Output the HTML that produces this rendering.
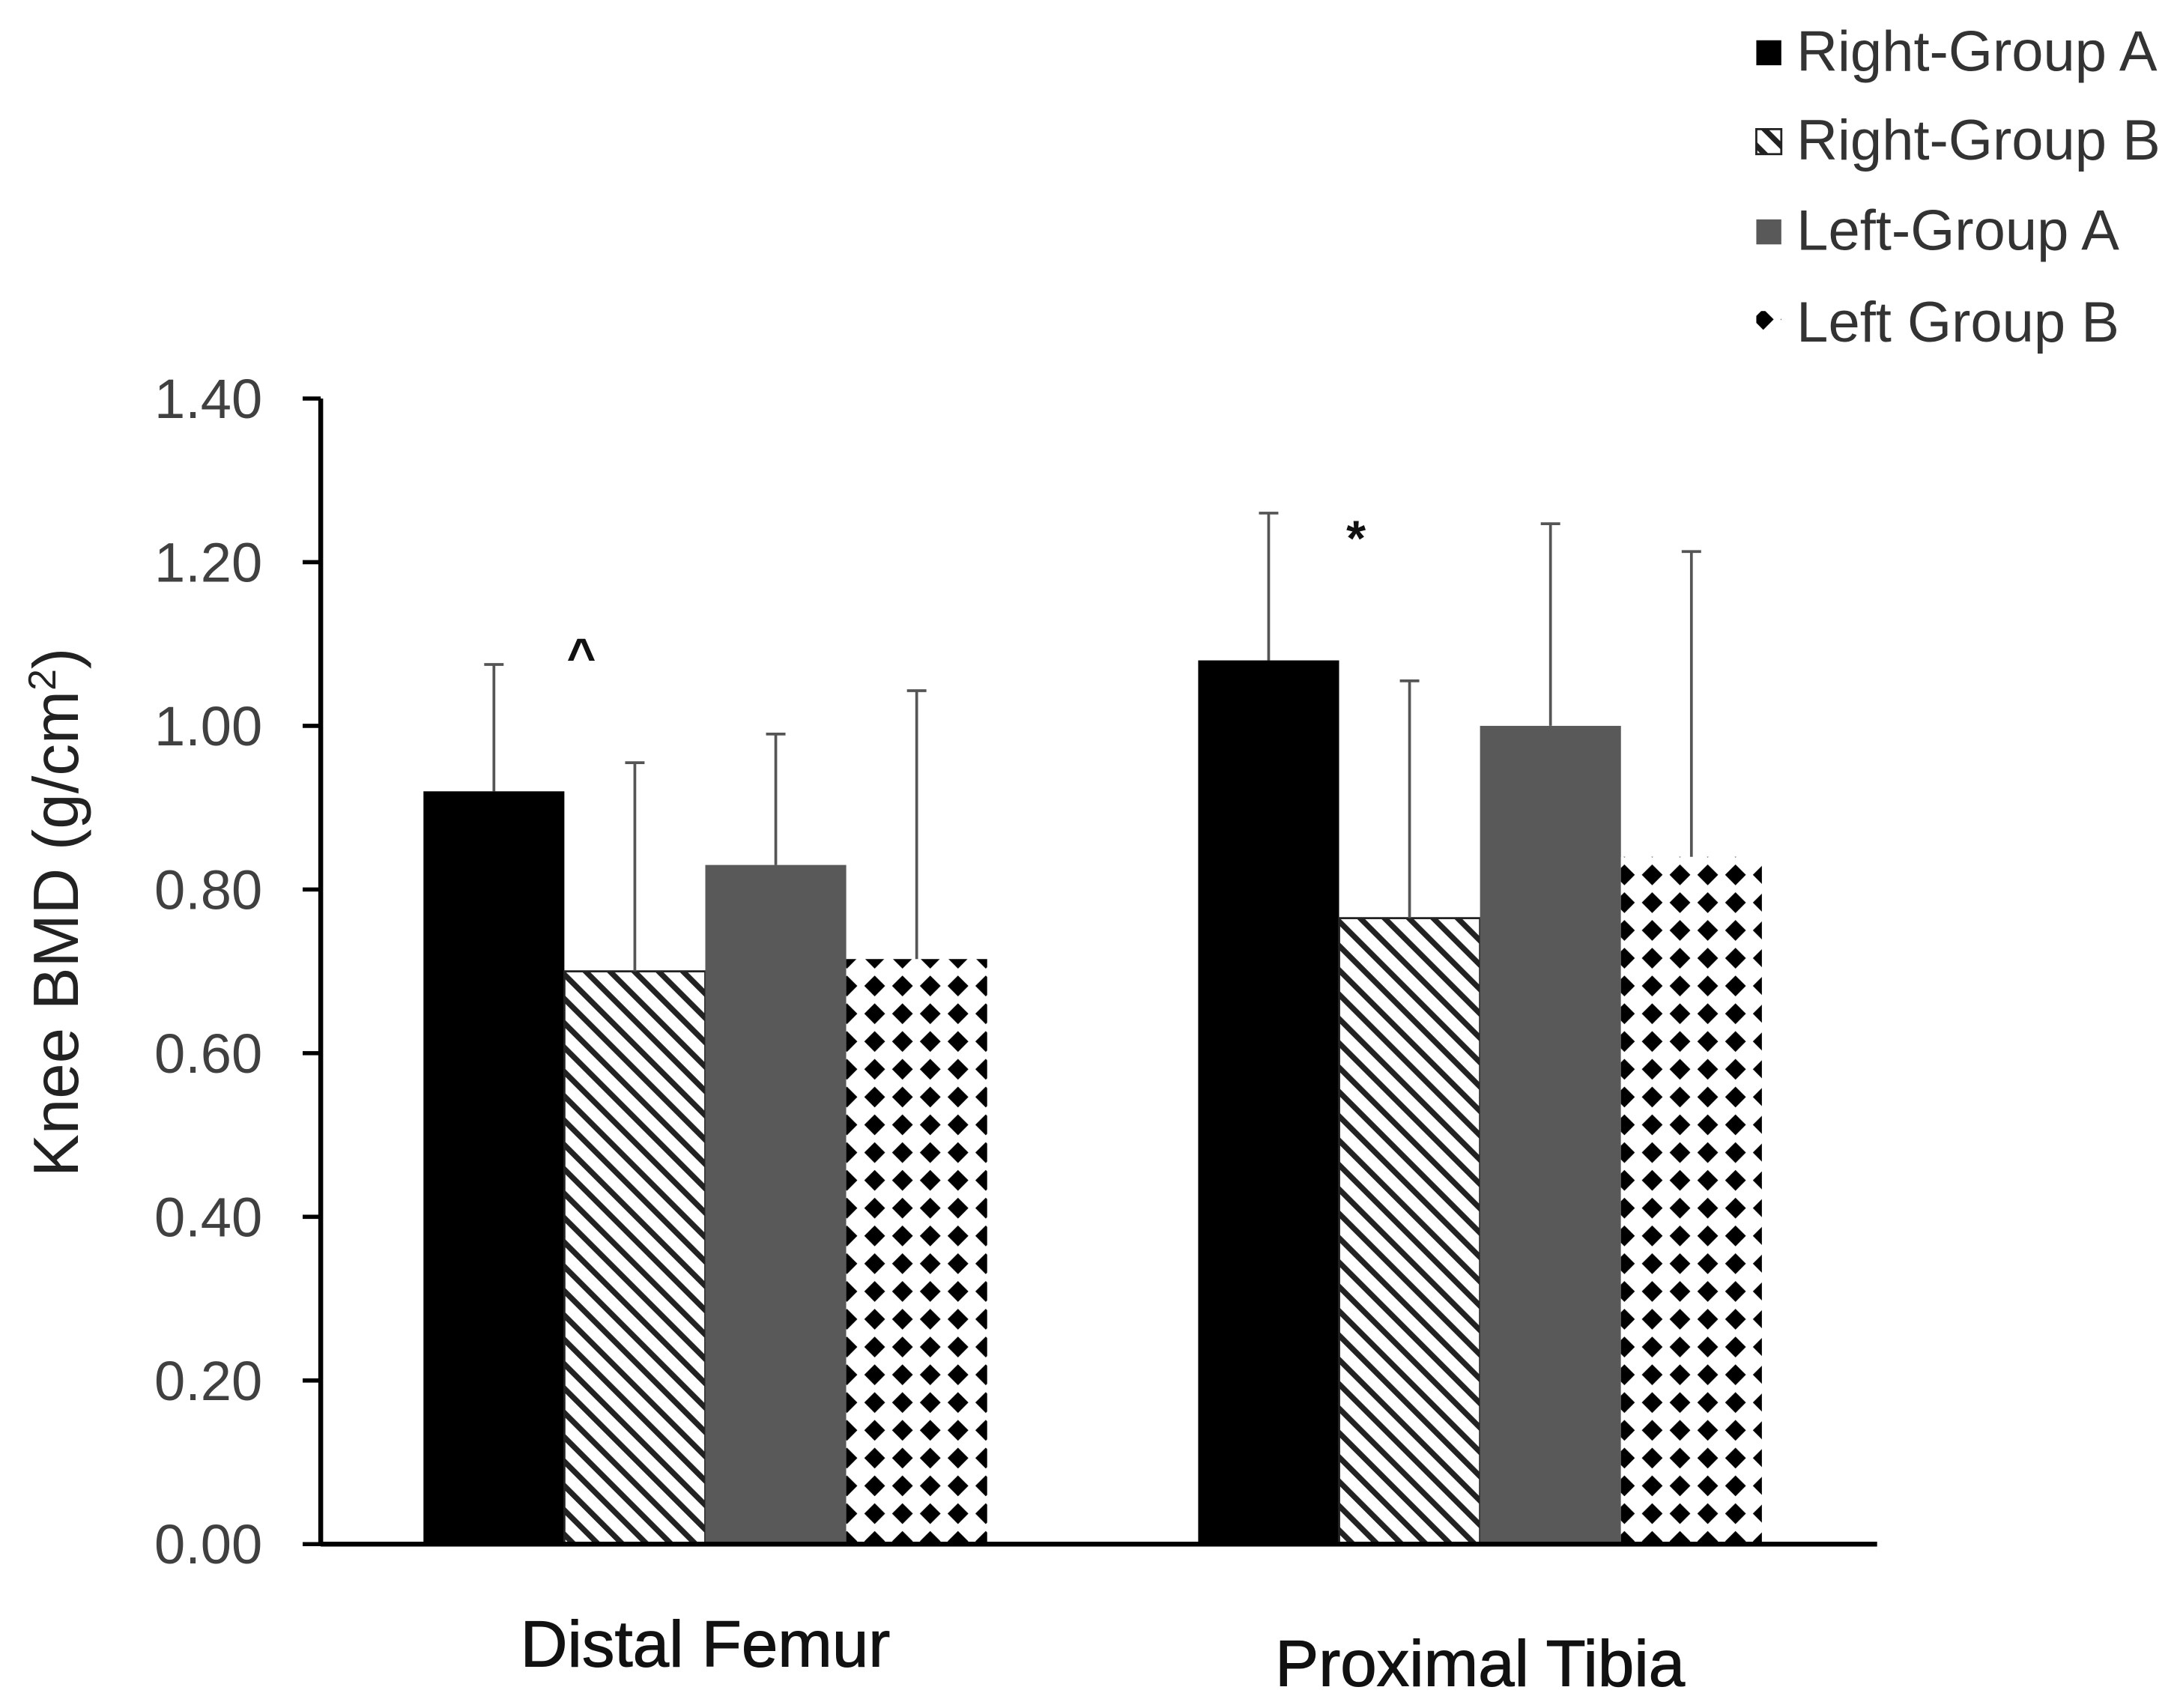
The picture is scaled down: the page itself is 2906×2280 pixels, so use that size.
<!DOCTYPE html>
<html><head><meta charset="utf-8"><style>
html,body{margin:0;padding:0;background:#fff;}
svg{display:block;}
text{font-family:"Liberation Sans",Arial,sans-serif;}
</style></head><body>
<svg id="chart" width="2906" height="2280" viewBox="0 0 1568 1230" preserveAspectRatio="none" xmlns="http://www.w3.org/2000/svg">
<defs>
<pattern id="hatch" patternUnits="userSpaceOnUse" width="12.4" height="12.4" patternTransform="rotate(-45)">
<rect width="12.4" height="12.4" fill="#fff"/>
<rect x="0" y="0" width="4" height="12.4" fill="#222"/>
</pattern>
<pattern id="dots" patternUnits="userSpaceOnUse" width="20" height="20" x="0" y="0">
<rect width="20" height="20" fill="#fff"/>
<polygon points="10,2.5 17.5,10 10,17.5 2.5,10" fill="#000"/>
</pattern>
</defs>
<g id="plot"></g>
</svg>
<script>
const categories = ["Distal Femur", "Proximal Tibia"];
const seriesNames = ["Right-Group A", "Right-Group B", "Left-Group A", "Left Group B"];
const rightA = [0.92, 1.08];
const rightB = [0.70, 0.765];
const leftA = [0.83, 1.00];
const leftB = [0.715, 0.84];
const rightAErr = [1.075, 1.26];
const rightBErr = [0.955, 1.055];
const leftAErr = [0.99, 1.247];
const leftBErr = [1.043, 1.213];
const yTicks = [0, 0.2, 0.4, 0.6, 0.8, 1.0, 1.2, 1.4];
const annotations = ["^", "*"];

const NS = "http://www.w3.org/2000/svg";
const g = document.getElementById("plot");
const X0 = 231, XEND = 1352, Y0 = 1112, YTOP = 287, YMAX = 1.4;
const yScale = v => Y0 - (v / YMAX) * (Y0 - YTOP);
const groupStart = [305, 863];
const barW = 101.5;
const fills = ["#000", "url(#hatch)", "#595959", "url(#dots)"];
const values = [rightA, rightB, leftA, leftB];
const errs = [rightAErr, rightBErr, leftAErr, leftBErr];
function mk(tag, attrs, parent) {
  const e = document.createElementNS(NS, tag);
  for (const k in attrs) e.setAttribute(k, attrs[k]);
  (parent || g).appendChild(e);
  return e;
}
yTicks.forEach(t => {
  const y = yScale(t);
  const tk = mk("line", {x1: 218, x2: X0, y1: y, y2: y, stroke: "#000", "stroke-width": 3});
  
  
  const lb = mk("text", {x: 189, y: y + 14, "text-anchor": "end", "font-size": 40, fill: "#404040"});
  lb.textContent = t.toFixed(2);
  
  
});
categories.forEach((c, ci) => {
  values.forEach((arr, si) => {
    const x = groupStart[ci] + si * barW;
    const y = yScale(arr[ci]);
    const r = mk("rect", {x: x, y: y, width: barW, height: Y0 - y, fill: fills[si],
      stroke: si === 1 ? "#222" : "none", "stroke-width": 1.5});
    
    
    const cx = x + barW / 2;
    const ye = yScale(errs[si][ci]);
    const el = mk("line", {x1: cx, x2: cx, y1: y, y2: ye, stroke: "#555", "stroke-width": 2});
    
    
    const cap = mk("line", {x1: cx - 7, x2: cx + 7, y1: ye, y2: ye, stroke: "#555", "stroke-width": 2});
    
    
  });
  const lab = mk("text", {x: groupStart[ci] + 2 * barW, y: ci === 0 ? 1200 : 1214, "text-anchor": "middle", "font-size": 47, fill: "#111", stroke: "#111", "stroke-width": 0.6});
  lab.textContent = c;
  
  
  const an = mk("text", {x: groupStart[ci] + barW * 1.12, y: ci === 0 ? 485 : 400, "text-anchor": "middle", "font-size": 36, "font-weight": "bold", fill: "#111"});
  an.textContent = annotations[ci];
  
  
});
const ya = mk("line", {x1: X0, x2: X0, y1: YTOP, y2: Y0 + 1.5, stroke: "#000", "stroke-width": 3.5});


const xa = mk("line", {x1: X0, x2: XEND, y1: Y0, y2: Y0, stroke: "#000", "stroke-width": 3.5});


const yt = mk("text", {x: 0, y: 0, transform: "translate(56,657) rotate(-90)", "text-anchor": "middle", "font-size": 46, fill: "#222"});
yt.innerHTML = 'Knee BMD (g/cm<tspan dy="-16" font-size="28">2</tspan><tspan dy="16">)</tspan>';


const legY = [37, 101, 166, 232];
const legFill = ["#000", "url(#hatch)", "#595959", "url(#dots)"];
seriesNames.forEach((n, i) => {
  const sw = mk("rect", {x: 1265, y: legY[i] - 8, width: 18, height: 18, fill: legFill[i], stroke: i === 1 ? "#222" : "none", "stroke-width": 1.5});
  
  
  const t = mk("text", {x: 1294, y: legY[i] + 14, "font-size": 41, fill: "#333"});
  t.textContent = n;
  
  
});
</script>
</body></html>
